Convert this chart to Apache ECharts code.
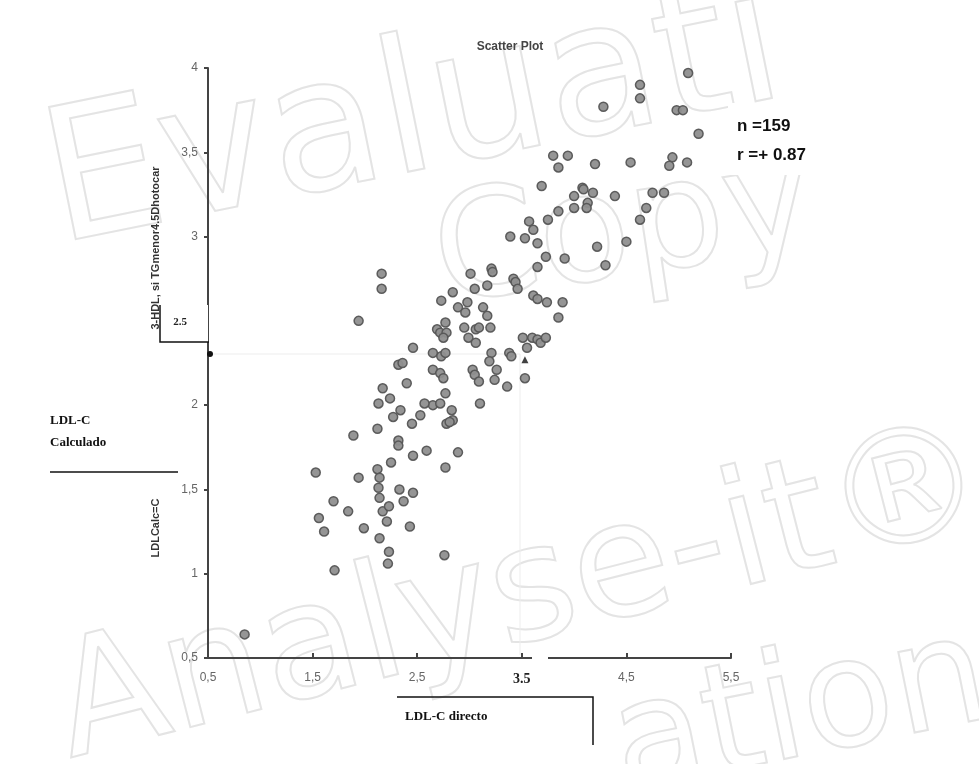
<!DOCTYPE html>
<html lang="es" style="height: 100%">
<head>
    <meta charset="UTF-8">
    <title>Scatter Plot</title>
    <script src="https://cdn.jsdelivr.net/npm/echarts@6/dist/echarts.min.js"></script>
</head>
<body style="height: 100%; margin: 0; background: #fff">
<div id="main" style="width: 979px; height: 764px"></div>
<script>
    // LDL-C directo (x) vs LDL-C calculado (y)
    var ldlDirect = [
        5.09,4.63,4.63,4.28,4.98,5.04,5.19,3.80,3.94,3.85,4.20,4.54,4.94,4.91,5.08,3.69,4.08,4.09,4.00,4.18,4.39,4.75,4.86,4.69,4.63,4.13,4.12,4.00,3.85,3.75,3.57,3.61,3.39,3.53,3.65,4.22,4.50,3.73,3.91,3.65,4.30,3.42,
        3.01,3.21,3.22,3.05,3.17,2.84,3.44,3.46,3.61,3.65,3.74,3.89,3.85,2.89,2.98,2.96,3.13,3.17,3.20,2.95,2.99,3.06,3.09,3.06,3.51,3.60,3.65,3.68,3.73,3.55,3.21,3.38,3.40,3.19,3.26,3.03,3.05,3.09,3.24,3.36,3.53,3.10,2.83,2.84,
        2.73,2.69,2.72,2.77,2.78,2.75,2.65,2.73,2.77,2.65,2.72,2.75,2.77,2.65,2.72,2.78,2.81,
        2.16,2.16,1.94,2.46,2.32,2.36,2.40,2.17,2.24,2.13,2.27,2.34,2.57,2.53,2.45,2.12,1.89,2.32,2.32,
        1.53,1.94,2.12,2.14,2.25,2.46,2.59,2.89,2.77,1.70,1.56,1.61,1.84,1.99,2.13,2.14,2.33,2.46,2.37,2.17,2.23,2.21,2.43,2.14,2.23,2.22,1.71,2.76,0.85
    ];
    var ldlCalc = [
        3.97,3.90,3.82,3.77,3.75,3.75,3.61,3.48,3.48,3.41,3.43,3.44,3.47,3.42,3.44,3.30,3.29,3.28,3.24,3.26,3.24,3.26,3.26,3.17,3.10,3.20,3.17,3.17,3.15,3.10,3.09,3.04,3.00,2.99,2.96,2.94,2.97,2.88,2.87,2.82,2.83,2.75,
        2.78,2.81,2.79,2.69,2.71,2.67,2.73,2.69,2.65,2.63,2.61,2.61,2.52,2.58,2.61,2.55,2.58,2.53,2.46,2.46,2.40,2.45,2.46,2.37,2.40,2.40,2.39,2.37,2.40,2.34,2.31,2.31,2.29,2.26,2.21,2.21,2.18,2.14,2.15,2.11,2.16,2.01,1.97,1.91,
        2.62,2.45,2.43,2.49,2.43,2.40,2.31,2.29,2.31,2.21,2.19,2.16,2.07,2.00,2.01,1.89,1.90,
        2.78,2.69,2.50,2.34,2.24,2.25,2.13,2.10,2.04,2.01,1.93,1.97,2.01,1.94,1.89,1.86,1.82,1.79,1.76,
        1.60,1.57,1.62,1.57,1.66,1.70,1.73,1.72,1.63,1.43,1.33,1.25,1.37,1.27,1.51,1.45,1.50,1.48,1.43,1.37,1.40,1.31,1.28,1.21,1.13,1.06,1.02,1.11,0.64
    ];
    // the single triangle marker
    var triDirect = [3.53];
    var triCalc = [2.27];

    var xTicks = ['0,5', '1,5', '2,5', '3.5', '4,5', '5,5'];
    var yTicks = ['0,5', '1', '1,5', '2', '', '3', '3,5', '4'];
    var statsText = ['n =159', 'r =+ 0.87'];

    var points = ldlDirect.map(function (v, i) { return [v, ldlCalc[i]]; });
    var triPoints = triDirect.map(function (v, i) { return [v, triCalc[i]]; });

    // outlined watermark text
    function mark(text, x, y, size, rot) {
        return {
            type: 'text', z: 0, silent: true, x: x, y: y, rotation: rot,
            style: {
                text: text, font: size + 'px "DejaVu Sans", sans-serif',
                fill: 'rgba(0,0,0,0)', stroke: '#e4e4e4', lineWidth: 2
            }
        };
    }

    var serif = '"Liberation Serif", "DejaVu Serif", serif';

    var myoption = {
        backgroundColor: '#fff',
        animation: false,
        title: {
            text: 'Scatter Plot',
            left: 505, top: 36, textAlign: 'center',
            textStyle: {fontSize: 12, fontWeight: 'bold', color: '#444', fontFamily: 'Arial, sans-serif'}
        },
        grid: {left: 208, right: 248, top: 68, bottom: 106},
        xAxis: {
            type: 'value', min: 0.5, max: 5.5, interval: 1,
            axisLine: {lineStyle: {color: '#444', width: 2}},
            axisTick: {show: true, length: 5, inside: true, lineStyle: {color: '#444', width: 2}},
            splitLine: {show: false},
            axisLabel: {
                margin: 14, color: '#666', fontSize: 12, fontFamily: 'Arial, sans-serif',
                formatter: function (v) {
                    var t = xTicks[Math.round(v - 0.5)];
                    return t === '3.5' ? '{p|' + t + '}' : t;
                },
                rich: {p: {fontFamily: serif, fontWeight: 'bold', fontSize: 14, color: '#222', padding: [0, 0, 8, 0]}}
            }
        },
        yAxis: {
            type: 'value', min: 0.5, max: 4, interval: 0.5,
            axisLine: {lineStyle: {color: '#444', width: 2}},
            axisTick: {show: true, length: 4, lineStyle: {color: '#444', width: 2}},
            splitLine: {show: false},
            axisLabel: {
                margin: 10, color: '#666', fontSize: 12, fontFamily: 'Arial, sans-serif',
                formatter: function (v) { return yTicks[Math.round((v - 0.5) * 2)]; }
            }
        },
        graphic: [
            mark('Evaluati', 30, 105, 185, 0.2),
            mark('Copy', 425, 190, 150, 0.15),
            mark('Analyse-it®', 40, 640, 160, 0.25),
            mark('ation', 600, 680, 150, 0.2),
            // faint paste edges
            {type: 'line', z: 1, silent: true, shape: {x1: 211, y1: 354, x2: 520, y2: 354}, style: {stroke: '#ededed', lineWidth: 1}},
            {type: 'line', z: 1, silent: true, shape: {x1: 520, y1: 354, x2: 520, y2: 655}, style: {stroke: '#ededed', lineWidth: 1}},
            {type: 'rect', z: 5, silent: true, shape: {x: 532, y: 654, width: 16, height: 8}, style: {fill: '#fff'}},
            {type: 'circle', z: 5, silent: true, shape: {cx: 210, cy: 354, r: 3}, style: {fill: '#111'}},
            // y axis title (partly hidden)
            {type: 'text', z: 3, silent: true, x: 156, y: 528, rotation: Math.PI / 2,
                style: {text: 'LDLCalc=C', font: 'bold 11px Arial, sans-serif', fill: '#333', align: 'center', verticalAlign: 'middle'}},
            {type: 'text', z: 3, silent: true, x: 156, y: 248, rotation: Math.PI / 2,
                style: {text: '3-HDL, si TGmenor4.5Dhotocar', font: 'bold 11px Arial, sans-serif', fill: '#333', align: 'center', verticalAlign: 'middle'}},
            // pasted 2.5 box
            {type: 'rect', z: 4, silent: true, shape: {x: 160, y: 305, width: 48, height: 37}, style: {fill: '#fff'}},
            {type: 'polyline', z: 5, silent: true, shape: {points: [[160, 305], [160, 342], [209, 342]]}, style: {stroke: '#111', lineWidth: 1.5, fill: null}},
            {type: 'text', z: 5, silent: true, x: 180, y: 322,
                style: {text: '2.5', font: 'bold 11px ' + serif, fill: '#222', align: 'center', verticalAlign: 'middle'}},
            // LDL-C Calculado label
            {type: 'text', z: 5, silent: true, x: 50, y: 410,
                style: {text: 'LDL-C\nCalculado', font: 'bold 13px ' + serif, lineHeight: 22, fill: '#111'}},
            {type: 'line', z: 5, silent: true, shape: {x1: 50, y1: 472, x2: 178, y2: 472}, style: {stroke: '#111', lineWidth: 1.5}},
            // LDL-C directo label
            {type: 'polyline', z: 5, silent: true, shape: {points: [[397, 697], [593, 697], [593, 745]]}, style: {stroke: '#111', lineWidth: 1.5, fill: null}},
            {type: 'text', z: 5, silent: true, x: 405, y: 710,
                style: {text: 'LDL-C directo', font: 'bold 13px ' + serif, fill: '#111'}},
            // stats box
            {type: 'rect', z: 4, silent: true, shape: {x: 728, y: 103, width: 112, height: 72}, style: {fill: '#fff'}},
            {type: 'text', z: 5, silent: true, x: 737, y: 112,
                style: {text: statsText.join('\n'), font: 'bold 17px Arial, "Liberation Sans", sans-serif', lineHeight: 29, fill: '#111'}}
        ],
        series: [
            {
                type: 'scatter', symbol: 'circle', symbolSize: 9, z: 2,
                itemStyle: {color: '#8f8f8f', borderColor: '#555', borderWidth: 1.5, opacity: 0.95},
                data: points
            },
            {
                type: 'scatter', symbol: 'triangle', symbolSize: 7, z: 3,
                itemStyle: {color: '#111'},
                data: triPoints
            }
        ]
    };
    var myChart = echarts.init(document.getElementById('main'));
    myChart.setOption(myoption);
</script>
</body>
</html>
